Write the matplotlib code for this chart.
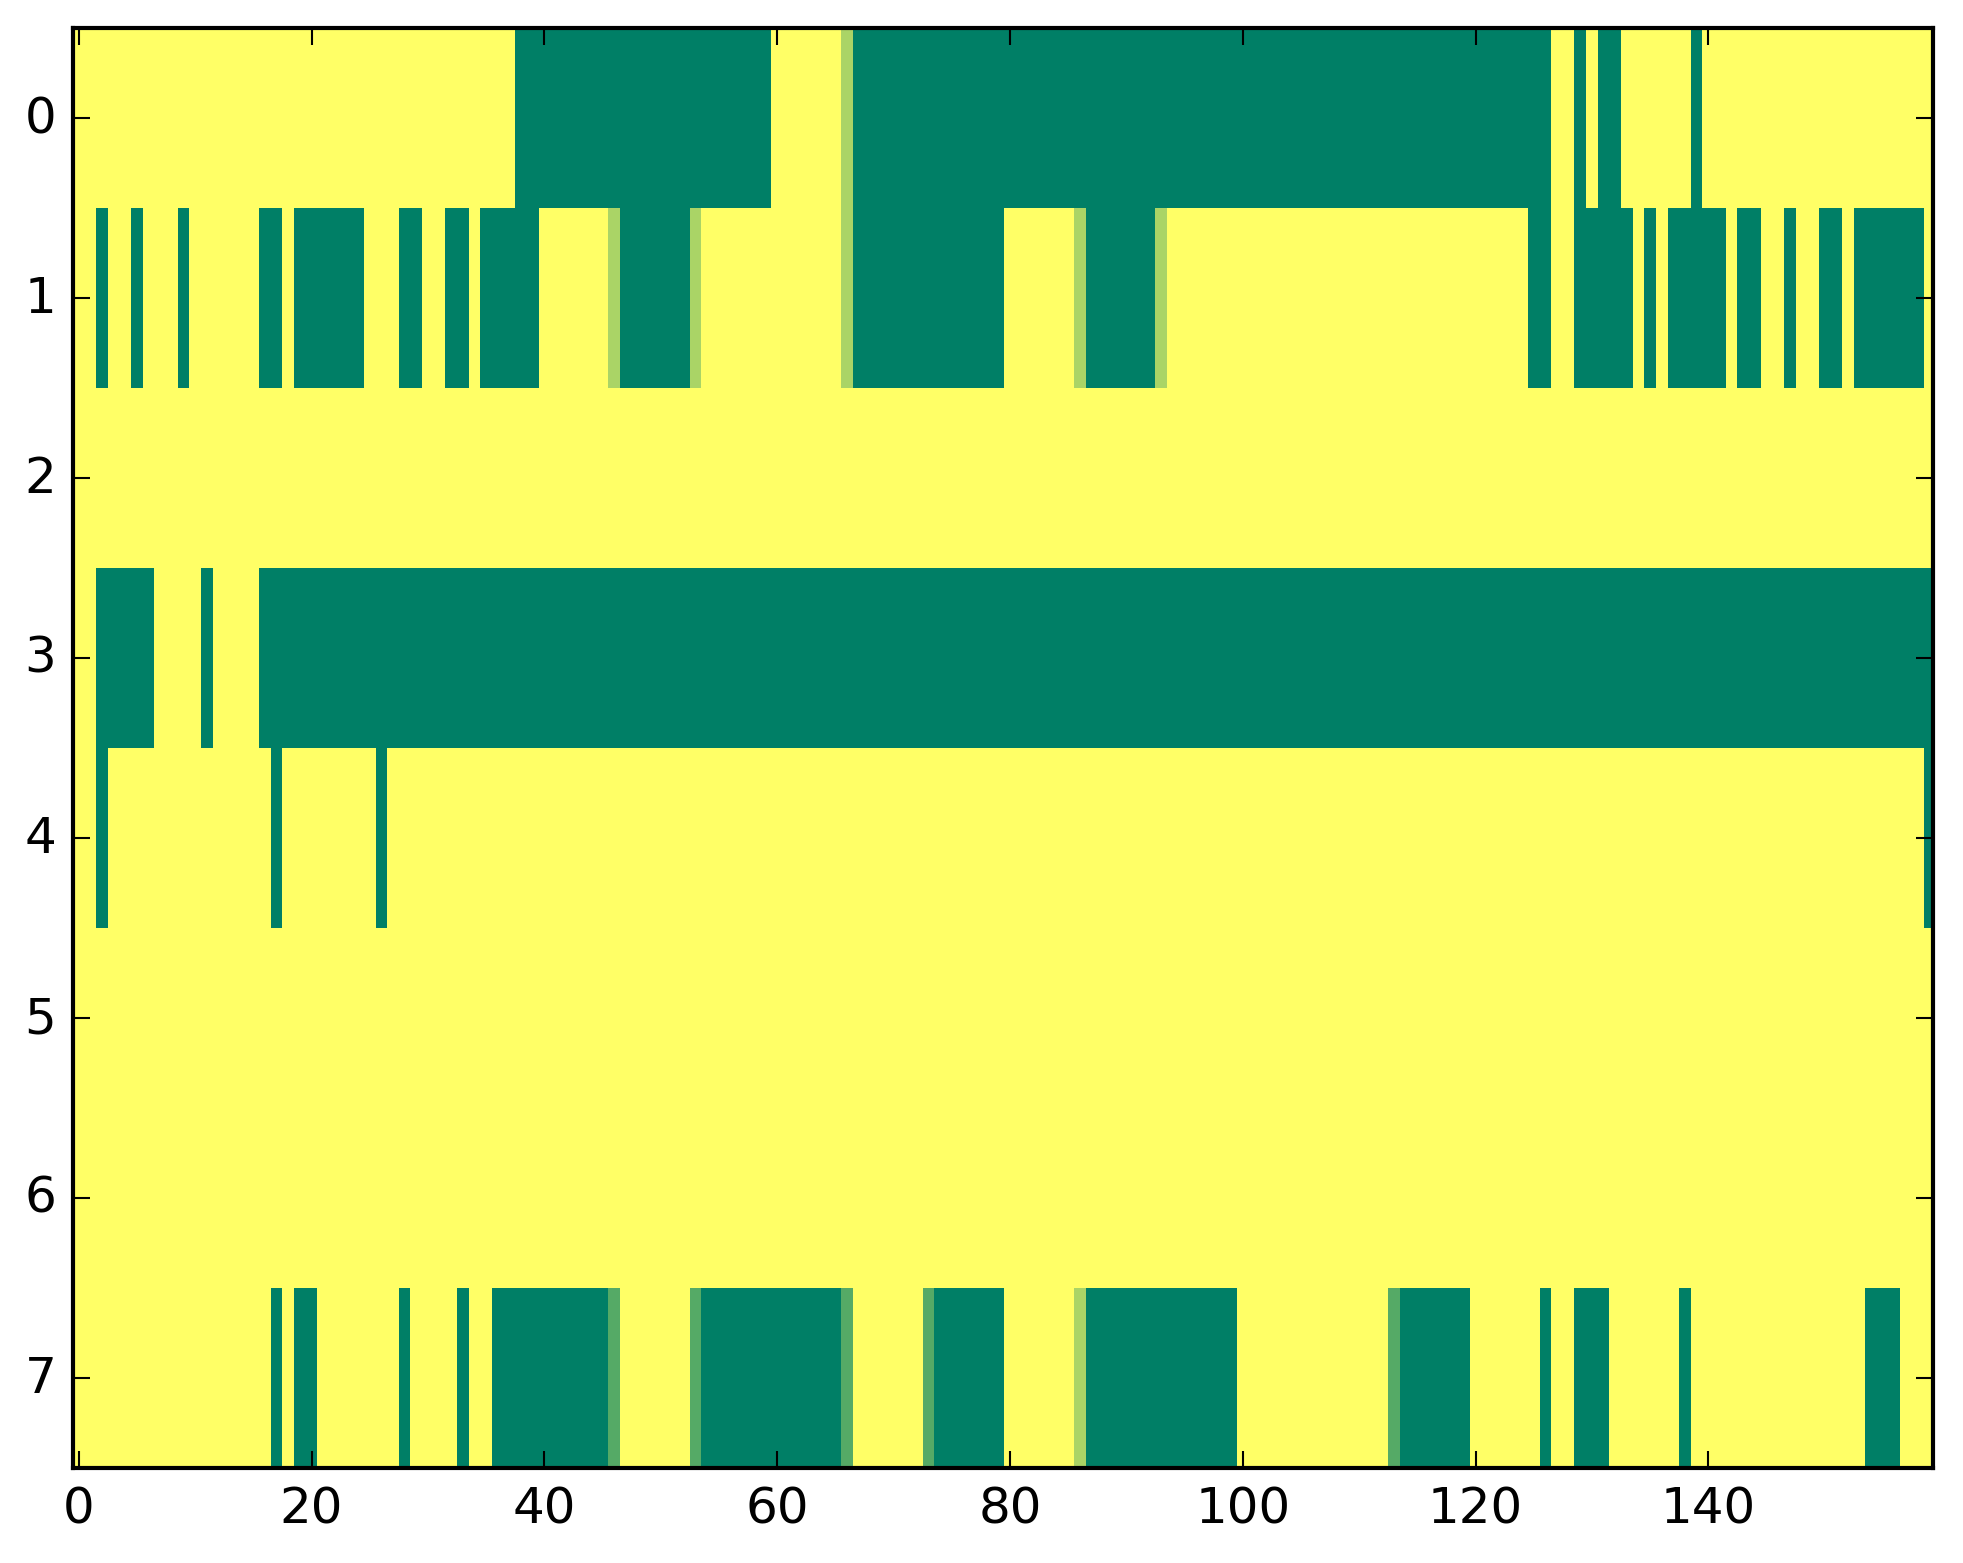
import numpy as np
import matplotlib
matplotlib.use("Agg")
import matplotlib.pyplot as plt

plt.style.use("classic")

# cell values: 1 = yellow, 0 = green, in-between columns are partial
Y, G, L, M = 1.0, 0.0, 2 / 3, 1 / 3

# each row given as (value, run length) pairs, read left to right
row0 = [(Y, 38), (G, 22), (Y, 6), (L, 1), (G, 60), (Y, 2), (G, 1), (Y, 1),
        (G, 2), (Y, 6), (G, 1), (Y, 20)]
row1 = [(Y, 2), (G, 1), (Y, 2), (G, 1), (Y, 3), (G, 1), (Y, 6), (G, 2), (Y, 1),
        (G, 6), (Y, 3), (G, 2), (Y, 2), (G, 2), (Y, 1), (G, 5), (Y, 6), (L, 1),
        (G, 6), (L, 1), (Y, 12), (L, 1), (G, 13), (Y, 6), (L, 1), (G, 6), (L, 1),
        (Y, 31), (G, 2), (Y, 2), (G, 5), (Y, 1), (G, 1), (Y, 1), (G, 5), (Y, 1),
        (G, 2), (Y, 2), (G, 1), (Y, 2), (G, 2), (Y, 1), (G, 6), (Y, 1)]
row2 = [(Y, 160)]
row3 = [(Y, 2), (G, 5), (Y, 4), (G, 1), (Y, 4), (G, 144)]
row4 = [(Y, 2), (G, 1), (Y, 14), (G, 1), (Y, 8), (G, 1), (Y, 132), (G, 1)]
row5 = [(Y, 160)]
row6 = [(Y, 160)]
row7 = [(Y, 17), (G, 1), (Y, 1), (G, 2), (Y, 7), (G, 1), (Y, 4), (G, 1), (Y, 2),
        (G, 10), (M, 1), (Y, 6), (M, 1), (G, 12), (M, 1), (Y, 6), (M, 1), (G, 6),
        (Y, 6), (L, 1), (G, 13), (Y, 13), (M, 1), (G, 6), (Y, 6), (G, 1), (Y, 2),
        (G, 3), (Y, 6), (G, 1), (Y, 15), (G, 3), (Y, 3)]

rows = [row0, row1, row2, row3, row4, row5, row6, row7]


def expand(runs):
    return np.concatenate([np.full(n, v) for v, n in runs])


matrix = np.vstack([expand(r) for r in rows])

W, H = 1963, 1564
fig = plt.figure(figsize=(W / 300, H / 300), dpi=300)
ax = fig.add_axes([73 / W, 95 / H, 1860 / W, 1440 / H])
ax.imshow(matrix, cmap="summer", vmin=0, vmax=1, aspect="auto",
          interpolation="nearest")
ax.set_xlim(-0.5, 159.3)
ax.set_ylim(7.5, -0.5)

fig.savefig("out.png", dpi=300)
